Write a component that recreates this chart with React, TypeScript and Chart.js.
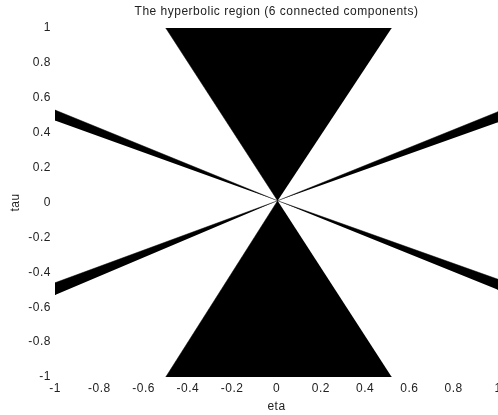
import React, { useEffect, useRef } from "react";
import { Chart, registerables } from "chart.js";

Chart.register(...registerables);

const titleText = "The hyperbolic region (6 connected components)";
const xLabel = "eta";
const yLabel = "tau";
const xTicks = [-1, -0.8, -0.6, -0.4, -0.2, 0, 0.2, 0.4, 0.6, 0.8, 1];
const yTicks = [-1, -0.8, -0.6, -0.4, -0.2, 0, 0.2, 0.4, 0.6, 0.8, 1];
const xTickLabels = ["-1", "-0.8", "-0.6", "-0.4", "-0.2", "0", "0.2", "0.4", "0.6", "0.8", "1"];
const yTickLabels = ["-1", "-0.8", "-0.6", "-0.4", "-0.2", "0", "0.2", "0.4", "0.6", "0.8", "1"];

// polygon vertices (eta, tau) of each connected component
const apex = { x: 0.005, y: 0.01 };
const topCone = [apex, { x: -0.5, y: 1 }, { x: 0.52, y: 1 }];
const bottomCone = [apex, { x: -0.5, y: -1 }, { x: 0.52, y: -1 }];
const upperLeftWedge = [apex, { x: -1, y: 0.53 }, { x: -1, y: 0.47 }];
const upperRightWedge = [apex, { x: 1, y: 0.52 }, { x: 1, y: 0.46 }];
const lowerLeftWedge = [apex, { x: -1, y: -0.46 }, { x: -1, y: -0.53 }];
const lowerRightWedge = [apex, { x: 1, y: -0.44 }, { x: 1, y: -0.5 }];

const components = [topCone, bottomCone, upperLeftWedge, upperRightWedge, lowerLeftWedge, lowerRightWedge];

const letterSpacingPlugin = {
  id: "letterSpacing",
  beforeInit(chart: any) {
    chart.ctx.letterSpacing = "0.5px";
  },
  beforeDraw(chart: any) {
    chart.ctx.letterSpacing = "0.5px";
  },
};

export default function App() {
  const ref = useRef<HTMLCanvasElement | null>(null);
  useEffect(() => {
    if (!ref.current) return;
    const font = { family: "'Liberation Sans', Arial, sans-serif", size: 12 };
    const chart = new Chart(ref.current, {
      type: "scatter",
      plugins: [letterSpacingPlugin],
      data: {
        datasets: components.map((pts) => ({
          data: pts.map((p) => ({ x: p.x, y: p.y })),
          showLine: true,
          fill: "shape",
          backgroundColor: "#000",
          borderColor: "#000",
          borderWidth: 0.5,
          pointRadius: 0,
          tension: 0,
        })),
      },
      options: {
        animation: false,
        responsive: false,
        maintainAspectRatio: false,
        layout: { padding: 0 },
        plugins: {
          legend: { display: false },
          tooltip: { enabled: false },
          title: {
            display: true,
            text: titleText,
            fullSize: false,
            color: "#222",
            font: { ...font, weight: "normal", lineHeight: "13px" },
            padding: { top: 5, bottom: 10 },
          },
        },
        scales: {
          x: {
            type: "linear",
            min: -1,
            max: 1,
            border: { display: false },
            grid: { display: false, drawTicks: false, tickLength: 0 },
            afterBuildTicks: (s: any) => {
              s.ticks = xTicks.map((v) => ({ value: v }));
            },
            afterFit: (s: any) => {
              s.height = 38;
              s.paddingLeft = 0;
              s.paddingRight = 0;
            },
            ticks: {
              color: "#222",
              font,
              padding: 4,
              maxRotation: 0,
              autoSkip: false,
              callback: (v: any) => xTickLabels[xTicks.indexOf(Number(v))] ?? "",
            },
            title: {
              display: true,
              text: xLabel,
              color: "#222",
              font,
              padding: { top: 0, bottom: 1 },
            },
          },
          y: {
            type: "linear",
            min: -1,
            max: 1,
            border: { display: false },
            grid: { display: false, drawTicks: false, tickLength: 0 },
            afterBuildTicks: (s: any) => {
              s.ticks = yTicks.map((v) => ({ value: v }));
            },
            afterFit: (s: any) => {
              s.width = 55;
              s.paddingTop = 0;
              s.paddingBottom = 0;
            },
            ticks: {
              color: "#222",
              font,
              padding: 4,
              autoSkip: false,
              callback: (v: any) => yTickLabels[yTicks.indexOf(Number(v))] ?? "",
            },
            title: {
              display: true,
              text: yLabel,
              color: "#222",
              font,
              padding: { top: 8, bottom: 0 },
            },
          },
        },
      },
    });
    return () => chart.destroy();
  }, []);
  return (
    <div style={{ position: "fixed", left: 0, top: 0, width: 498, height: 415, background: "#fff" }}>
      <canvas ref={ref} width={498} height={415} style={{ width: 498, height: 415 }} />
    </div>
  );
}
